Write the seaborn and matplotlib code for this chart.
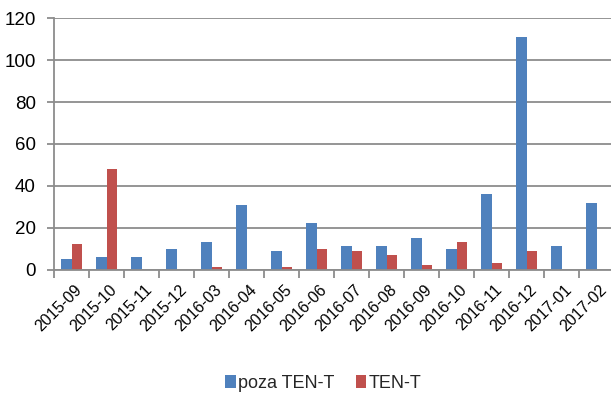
import matplotlib
matplotlib.use("Agg")
import matplotlib.pyplot as plt
from matplotlib.patches import Patch
from matplotlib.transforms import ScaledTranslation
import pandas as pd
import seaborn as sns

months = ["2015-09", "2015-10", "2015-11", "2015-12", "2016-03", "2016-04",
          "2016-05", "2016-06", "2016-07", "2016-08", "2016-09", "2016-10",
          "2016-11", "2016-12", "2017-01", "2017-02"]
poza_ten_t = [5, 6, 6, 10, 13, 31, 9, 22, 11, 11, 15, 10, 36, 111, 11, 32]
ten_t = [12, 48, 0, 0, 1, 0, 1, 10, 9, 7, 2, 13, 3, 9, 0, 0]
series_names = ["poza TEN-T", "TEN-T"]
colors = ["#4F81BD", "#C0504D"]
y_ticks = [0, 20, 40, 60, 80, 100, 120]

df = pd.DataFrame({
    "month": months * 2,
    "value": poza_ten_t + ten_t,
    "series": [series_names[0]] * len(months) + [series_names[1]] * len(months),
})

sns.set_theme(style="white")
plt.rcParams["font.family"] = ["Liberation Sans", "DejaVu Sans"]

W, H = 611, 394
fig = plt.figure(figsize=(W / 100, H / 100), dpi=100)
ax = fig.add_axes([54 / W, (H - 269.5) / H, 560 / W, (269.5 - 18.3) / H])

sns.barplot(data=df, x="month", y="value", hue="series", order=months,
            hue_order=series_names, palette=colors, width=0.6,
            saturation=1, linewidth=0, ax=ax, legend=False)

grid_col = "#8C8C8C"
ax.set_ylim(0, 120)
ax.set_xlim(-0.5, len(months) - 0.5)
ax.set_yticks(y_ticks)
ax.yaxis.grid(True, color=grid_col, linewidth=1.3)
ax.set_axisbelow(True)
for side in ("top", "right"):
    ax.spines[side].set_visible(False)
for side in ("left", "bottom"):
    ax.spines[side].set_color(grid_col)
    ax.spines[side].set_linewidth(1.3)

ax.set_xlabel("")
ax.set_ylabel("")

# category boundary ticks below the axis, labels at category centres
ax.set_xticks([i - 0.5 for i in range(len(months) + 1)], minor=True)
ax.tick_params(axis="x", which="minor", length=6, width=1.3, color=grid_col,
               direction="out", bottom=True)
ax.tick_params(axis="x", which="major", length=0, pad=13, labelsize=11.5,
               labelcolor="black")
ax.tick_params(axis="y", length=5, width=1.3, color=grid_col, direction="out",
               left=True, pad=8, labelsize=13.5, labelcolor="black")
ax.set_xticks(range(len(months)))
ax.set_xticklabels(months, rotation=45, ha="right", va="center",
                   rotation_mode="anchor")
shift = ScaledTranslation(8 / 100, 0, fig.dpi_scale_trans)
for lbl in ax.get_xticklabels():
    lbl.set_transform(lbl.get_transform() + shift)

handles = [Patch(facecolor=c, edgecolor="none") for c in colors]
fig.legend(handles, series_names, loc="center", bbox_to_anchor=(323 / W, 1 - 383.5 / H),
           ncol=2, frameon=False, fontsize=13, handlelength=0.6, handleheight=0.75,
           handletextpad=0.1, columnspacing=1.2, borderpad=0)

fig.savefig("out.png", dpi=100)
